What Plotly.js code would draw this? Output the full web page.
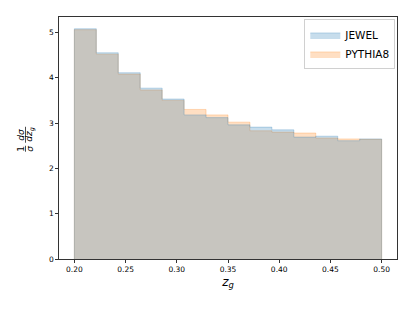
<!DOCTYPE html>
<html>
<head>
<meta charset="utf-8">
<script src="https://cdn.plot.ly/plotly-3.0.1.min.js"></script>
<style>html,body{margin:0;padding:0;background:#fff;}#chart{width:415px;height:311px;}</style>
</head>
<body>
<div id="chart"></div>
<script>
// Histogram bins (z_g from 0.2 to 0.5, 14 bins)
const binStart = 0.2;
const binEnd = 0.5;
const nBins = 14;
// Normalised distributions 1/sigma dsigma/dz_g
const jewel   = [5.08, 4.55, 4.11, 3.77, 3.53, 3.18, 3.12, 2.96, 2.91, 2.85, 2.69, 2.71, 2.61, 2.65];
const pythia8 = [5.06, 4.52, 4.08, 3.73, 3.50, 3.30, 3.18, 3.02, 2.83, 2.80, 2.78, 2.67, 2.65, 2.64];
const seriesNames = ["JEWEL", "PYTHIA8"];
const xTicks = [0.20, 0.25, 0.30, 0.35, 0.40, 0.45, 0.50];
const yTicks = [0, 1, 2, 3, 4, 5];

const w = (binEnd - binStart) / nBins;
const edges = [];
for (let i = 0; i <= nBins; i++) edges.push(binStart + i * w);

function stepTrace(vals, name, rgb, rank) {
  const x = [edges[0]], y = [0];
  for (let i = 0; i < vals.length; i++) { x.push(edges[i]); y.push(vals[i]); }
  x.push(edges[nBins]); y.push(vals[vals.length - 1]);
  x.push(edges[nBins]); y.push(0);
  return {
    type: 'scatter', mode: 'lines', x: x, y: y, name: name,
    line: {shape: 'hv', width: 1, color: 'rgba(' + rgb + ',0.25)'},
    fill: 'tozeroy', fillcolor: 'rgba(' + rgb + ',0.25)',
    legendrank: rank, hoverinfo: 'skip'
  };
}

const traces = [
  stepTrace(pythia8, seriesNames[1], '255,127,14', 2),
  stepTrace(jewel, seriesNames[0], '31,119,180', 1)
];

const L = 59, R = 397, T = 17, B = 259.5;
const pw = R - L, ph = B - T;
const px2x = p => (p - L) / pw;
const py2y = p => (B - p) / ph;

const font = {family: 'DejaVu Sans, sans-serif', color: '#000'};
const labFont = Object.assign({}, font, {size: 9});

const layout = {
  width: 415, height: 311,
  margin: {l: L, r: 415 - R, t: T, b: 311 - B},
  paper_bgcolor: '#fff', plot_bgcolor: '#fff',
  showlegend: true,
  legend: {x: 0.995, y: 0.99, xanchor: 'right', yanchor: 'top',
    bgcolor: 'rgba(255,255,255,0.8)', bordercolor: '#d0d0d0', borderwidth: 1,
    font: Object.assign({}, font, {size: 10.5}), itemwidth: 30, tracegroupgap: 0},
  xaxis: {
    range: [0.185, 0.515], tickvals: xTicks, tickformat: '.2f',
    ticks: 'outside', ticklen: 3, tickwidth: 0.8, tickcolor: '#000',
    showline: true, linecolor: '#000', linewidth: 0.8, mirror: true,
    showgrid: false, zeroline: false,
    tickfont: Object.assign({}, font, {size: 7.5}),
    title: {text: '<i>z</i><sub><i>g</i></sub>', font: Object.assign({}, font, {size: 12}), standoff: 4}
  },
  yaxis: {
    range: [0, 5.34], tickvals: yTicks,
    ticks: 'outside', ticklen: 3, tickwidth: 0.8, tickcolor: '#000',
    showline: true, linecolor: '#000', linewidth: 0.8, mirror: true,
    showgrid: false, zeroline: false,
    tickfont: Object.assign({}, font, {size: 7.5})
  },
  annotations: [
    {xref: 'paper', yref: 'paper', x: px2x(21), y: py2y(149), text: '1', textangle: -90, showarrow: false, font: labFont, xanchor: 'center', yanchor: 'middle'},
    {xref: 'paper', yref: 'paper', x: px2x(30), y: py2y(149), text: '<i>σ</i>', textangle: -90, showarrow: false, font: labFont, xanchor: 'center', yanchor: 'middle'},
    {xref: 'paper', yref: 'paper', x: px2x(21), y: py2y(135), text: '<i>dσ</i>', textangle: -90, showarrow: false, font: labFont, xanchor: 'center', yanchor: 'middle'},
    {xref: 'paper', yref: 'paper', x: px2x(30), y: py2y(135), text: '<i>dz</i><sub><i>g</i></sub>', textangle: -90, showarrow: false, font: labFont, xanchor: 'center', yanchor: 'middle'}
  ],
  shapes: [
    {type: 'line', xref: 'paper', yref: 'paper', x0: px2x(25.5), x1: px2x(25.5), y0: py2y(146), y1: py2y(152), line: {color: '#000', width: 0.7}},
    {type: 'line', xref: 'paper', yref: 'paper', x0: px2x(25.5), x1: px2x(25.5), y0: py2y(127), y1: py2y(143), line: {color: '#000', width: 0.7}}
  ]
};

Plotly.newPlot('chart', traces, layout, {displayModeBar: false, staticPlot: true});
</script>
</body>
</html>
